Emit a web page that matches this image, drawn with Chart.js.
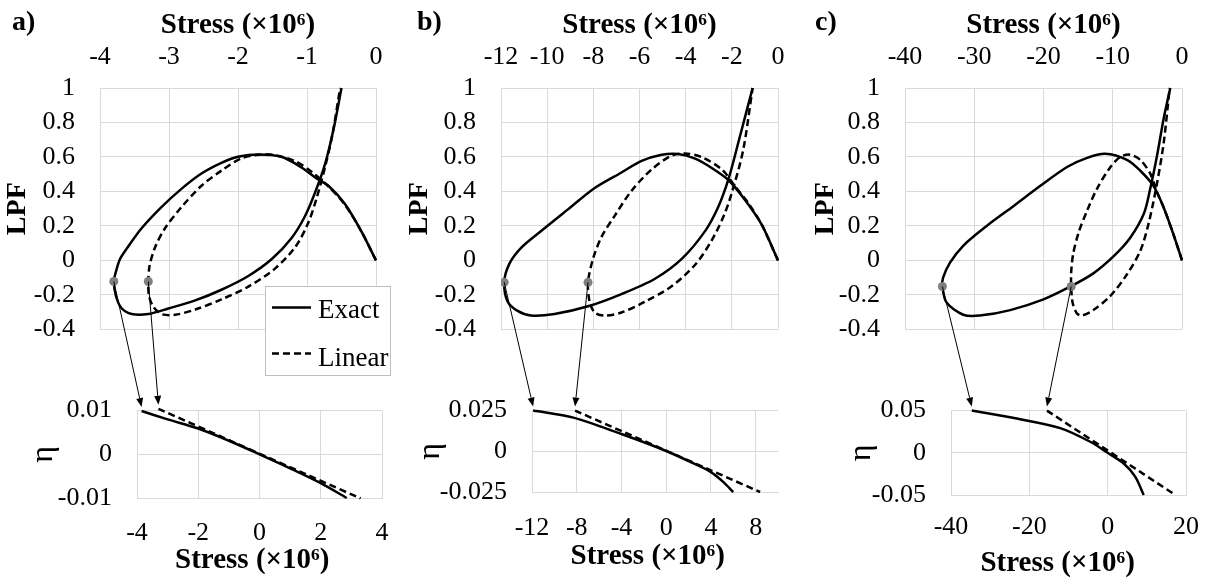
<!DOCTYPE html>
<html>
<head>
<meta charset="utf-8">
<script src="https://cdn.jsdelivr.net/npm/chart.js@4.4.1/dist/chart.umd.min.js"></script>
<style>
  html, body { margin: 0; padding: 0; background: #fff; }
  #wrap { position: relative; width: 1209px; height: 577px; overflow: hidden; }
  #wrap canvas, #wrap svg { position: absolute; }
</style>
</head>
<body>
<div id="wrap">
  <canvas id="aTop" width="430" height="370" style="left:0;top:0"></canvas>
  <canvas id="bTop" width="430" height="370" style="left:400px;top:0"></canvas>
  <canvas id="cTop" width="439" height="370" style="left:800px;top:0"></canvas>
  <canvas id="aBot" width="430" height="227" style="left:0;top:370px"></canvas>
  <canvas id="bBot" width="430" height="227" style="left:400px;top:370px"></canvas>
  <canvas id="cBot" width="439" height="227" style="left:800px;top:370px"></canvas>
  <canvas id="arrows" width="1209" height="577" style="left:0;top:0"></canvas>
  <svg width="1209" height="577" style="left:0;top:0" font-family="'Liberation Serif', 'Times New Roman', serif">
    <text x="12" y="30" font-size="28" font-weight="bold">a)</text>
    <text x="417" y="30" font-size="28" font-weight="bold">b)</text>
    <text x="815" y="30" font-size="28" font-weight="bold">c)</text>
    <rect x="265.5" y="286.5" width="125" height="89" fill="#fff" stroke="#bfbfbf" stroke-width="1"></rect>
    <line x1="272" y1="307.5" x2="311" y2="307.5" stroke="#000" stroke-width="2.5"></line>
    <text x="318" y="317.5" font-size="27">Exact</text>
    <line x1="272" y1="353.5" x2="311" y2="353.5" stroke="#000" stroke-width="2.5" stroke-dasharray="7 4"></line>
    <text x="318" y="365.5" font-size="27">Linear</text>
  </svg>
</div>
<script>
"use strict";

// ---- panel a, LPF vs stress ----
const aExactX = [0, -0.21, -0.45, -0.69, -0.85, -1.08, -1.37, -1.71, -2.0, -2.24, -2.53, -2.82, -3.11, -3.40, -3.61, -3.71, -3.78, -3.80, -3.77, -3.69, -3.54, -3.30, -3.01, -2.62, -2.24, -1.85, -1.51, -1.22, -1.03, -0.88, -0.74, -0.62, -0.50];
const aExactY = [0, 0.167, 0.327, 0.433, 0.472, 0.539, 0.601, 0.615, 0.601, 0.566, 0.504, 0.415, 0.309, 0.185, 0.07, 0.008, -0.081, -0.122, -0.205, -0.276, -0.311, -0.311, -0.279, -0.232, -0.17, -0.09, 0.008, 0.132, 0.256, 0.397, 0.557, 0.752, 1.0];
const aLinearX = [0, -0.21, -0.45, -0.69, -0.93, -1.17, -1.46, -1.66, -1.95, -2.24, -2.53, -2.82, -3.06, -3.20, -3.28, -3.30, -3.29, -3.23, -3.11, -2.91, -2.62, -2.24, -1.85, -1.46, -1.17, -0.98, -0.86, -0.74, -0.63, -0.52];
const aLinearY = [0, 0.167, 0.323, 0.429, 0.513, 0.575, 0.61, 0.615, 0.592, 0.521, 0.433, 0.309, 0.185, 0.078, -0.028, -0.122, -0.205, -0.267, -0.311, -0.315, -0.285, -0.226, -0.152, -0.046, 0.078, 0.22, 0.362, 0.539, 0.734, 1.0];
const aMarkX = [-3.80, -3.30];
const aMarkY = [-0.122, -0.122];

// ---- panel b ----
const bExactX = [0, -0.70, -1.42, -2.14, -2.87, -3.59, -4.32, -5.04, -5.91, -6.78, -7.94, -9.10, -10.26, -11.13, -11.64, -11.86, -11.71, -11.28, -10.70, -9.68, -8.23, -6.78, -5.33, -4.17, -3.16, -2.58, -2.14, -1.71, -1.10];
const bExactY = [0, 0.206, 0.349, 0.465, 0.536, 0.59, 0.617, 0.613, 0.577, 0.51, 0.42, 0.296, 0.171, 0.073, -0.02, -0.127, -0.24, -0.293, -0.32, -0.311, -0.266, -0.195, -0.106, 0.009, 0.17, 0.313, 0.474, 0.688, 1.0];
const bLinearX = [0, -0.70, -1.28, -1.86, -2.43, -3.30, -4.03, -4.61, -5.48, -6.35, -7.07, -7.65, -8.01, -8.23, -8.16, -7.94, -7.51, -6.78, -5.77, -4.61, -3.59, -2.87, -2.29, -1.86, -1.49, -1.10];
const bLinearY = [0, 0.206, 0.331, 0.429, 0.527, 0.599, 0.62, 0.608, 0.527, 0.403, 0.26, 0.135, 0.011, -0.127, -0.24, -0.302, -0.32, -0.302, -0.24, -0.15, -0.025, 0.117, 0.278, 0.456, 0.652, 1.0];
const bMarkX = [-11.86, -8.23];
const bMarkY = [-0.127, -0.127];

// ---- panel c ----
const cExactX = [0, -1.2, -2.65, -4.1, -6.02, -7.95, -11.08, -13.7, -16.6, -20.5, -24.3, -28.2, -31.6, -33.5, -34.5, -34.6, -34.0, -31.6, -29.2, -24.8, -20.0, -16.1, -12.8, -9.9, -7.5, -5.5, -4.6, -3.6, -2.65, -1.69];
const cExactY = [0, 0.147, 0.307, 0.431, 0.52, 0.583, 0.618, 0.595, 0.542, 0.431, 0.316, 0.2, 0.085, -0.013, -0.1, -0.151, -0.244, -0.315, -0.32, -0.288, -0.226, -0.151, -0.075, 0.023, 0.13, 0.272, 0.414, 0.609, 0.822, 1.0];
const cLinearX = [0, -1.2, -2.65, -3.61, -4.58, -6.02, -7.47, -8.92, -10.4, -12.3, -13.7, -14.9, -15.7, -16.0, -16.0, -15.8, -15.2, -14.5, -12.8, -10.4, -8.0, -6.0, -4.8, -3.6, -2.65, -1.78];
const cLinearY = [0, 0.147, 0.307, 0.396, 0.503, 0.583, 0.613, 0.6, 0.538, 0.414, 0.289, 0.165, 0.041, -0.066, -0.151, -0.244, -0.306, -0.32, -0.288, -0.208, -0.084, 0.058, 0.218, 0.449, 0.68, 1.0];
const cMarkX = [-34.6, -16.0];
const cMarkY = [-0.151, -0.151];

// ---- eta vs stress (lower plots) ----
const aEtaExactX = [-3.85, -3, -2, -1, 0, 1, 2, 2.85];
const aEtaExactY = [0.0099, 0.0080, 0.0059, 0.0031, 0, -0.0032, -0.0066, -0.01];
const aEtaLinearX = [-3.3, 3.3];
const aEtaLinearY = [0.0104, -0.0101];

const bEtaExactX = [-11.9, -8.3, -4, 0, 2.5, 4, 5.1, 6];
const bEtaExactY = [0.025, 0.0207, 0.0106, 0.0002, -0.0076, -0.0128, -0.0188, -0.025];
const bEtaLinearX = [-8.15, 8.4];
const bEtaLinearY = [0.025, -0.025];

const cEtaExactX = [-34.7, -23.2, -12.1, -4.45, 0, 4.1, 7.06, 9.2];
const cEtaExactY = [0.05, 0.0406, 0.0293, 0.0131, 0, -0.0127, -0.0285, -0.05];
const cEtaLinearX = [-15.5, 17.3];
const cEtaLinearY = [0.05, -0.05];

const FONT = "'Liberation Serif', 'Times New Roman', serif";
const GRID = "#d9d9d9";
const STRESS = "Stress (×10⁶)";

Chart.defaults.font.family = FONT;
Chart.defaults.font.size = 26;
Chart.defaults.color = "#000";

const pts = (xs, ys) => xs.map((x, i) => ({ x, y: ys[i] }));
const fmt = (v) => String(+Number(v).toFixed(4));

function lineSet(xs, ys, dashed) {
  return {
    data: pts(xs, ys),
    showLine: true,
    borderColor: "#000",
    borderWidth: 2.5,
    borderDash: dashed ? [7, 4] : [],
    pointRadius: 0,
    tension: 0.3,
    fill: false,
    clip: 4,
  };
}

// grey dots sit on top of the curves (first dataset is drawn last)
function markSet(xs, ys) {
  return {
    data: pts(xs, ys),
    showLine: false,
    pointRadius: 4.5,
    pointBackgroundColor: "#7f7f7f",
    pointBorderWidth: 0,
  };
}

function baseOptions(pad) {
  return {
    responsive: false,
    animation: false,
    events: [],
    layout: { padding: pad },
    plugins: { legend: { display: false }, tooltip: { enabled: false } },
  };
}

function topChart(id, o) {
  const opts = baseOptions({ left: 0, top: 0, right: o.padRight, bottom: 19 });
  opts.scales = {
    x: {
      type: "linear",
      position: "top",
      min: o.xMin,
      max: 0,
      ticks: { stepSize: o.xStep, padding: 15, maxRotation: 0, autoSkip: false, callback: fmt },
      grid: { color: GRID, drawTicks: false },
      border: { color: GRID },
      title: { display: true, text: STRESS, font: { size: 29, weight: "bold" }, padding: { top: 8, bottom: 0 } },
      afterFit: (s) => { s.height = 88; },
    },
    y: {
      min: -0.4,
      max: 1,
      ticks: { stepSize: 0.2, padding: 25, callback: fmt },
      grid: { color: GRID, drawTicks: false },
      border: { color: GRID },
      title: { display: true, text: "LPF", font: { size: 28, weight: "bold" }, padding: { top: o.titlePad, bottom: 0 } },
      afterFit: (s) => { s.width = o.yWidth; },
    },
  };
  return new Chart(document.getElementById(id), {
    type: "scatter",
    data: { datasets: [markSet(o.mx, o.my), lineSet(o.ex, o.ey, false), lineSet(o.lx, o.ly, true)] },
    options: opts,
  });
}

function botChart(id, o) {
  const opts = baseOptions({ left: 0, top: o.padTop, right: o.padRight, bottom: 0 });
  opts.scales = {
    x: {
      type: "linear",
      position: "bottom",
      min: o.xMin,
      max: o.xMax,
      ticks: { stepSize: o.xStep, padding: o.tickPad, maxRotation: 0, autoSkip: false, includeBounds: false, callback: fmt },
      grid: { color: GRID, drawTicks: false },
      border: { color: GRID },
      title: { display: true, text: STRESS + o.shift, font: { size: 29, weight: "bold" }, padding: { top: 0, bottom: o.titleBottom } },
      afterFit: (s) => { s.height = o.xHeight; },
    },
    y: {
      min: -o.yMax,
      max: o.yMax,
      ticks: { stepSize: o.yMax, padding: 25, callback: fmt },
      grid: { color: GRID, drawTicks: false },
      border: { color: GRID },
      title: { display: true, text: "η", font: { size: 32 }, padding: { top: o.titlePad, bottom: 0 } },
      afterFit: (s) => { s.width = o.yWidth; },
    },
  };
  return new Chart(document.getElementById(id), {
    type: "scatter",
    data: { datasets: [lineSet(o.ex, o.ey, false), lineSet(o.lx, o.ly, true)] },
    options: opts,
  });
}

const aTop = topChart("aTop", { ex: aExactX, ey: aExactY, lx: aLinearX, ly: aLinearY, mx: aMarkX, my: aMarkY, xMin: -4, xStep: 1, yWidth: 100, padRight: 54, titlePad: 1 });
const bTop = topChart("bTop", { ex: bExactX, ey: bExactY, lx: bLinearX, ly: bLinearY, mx: bMarkX, my: bMarkY, xMin: -12, xStep: 2, yWidth: 101, padRight: 52, titlePad: 3 });
const cTop = topChart("cTop", { ex: cExactX, ey: cExactY, lx: cLinearX, ly: cLinearY, mx: cMarkX, my: cMarkY, xMin: -40, xStep: 10, yWidth: 105, padRight: 57, titlePad: 9 });

const aBot = botChart("aBot", { ex: aEtaExactX, ey: aEtaExactY, lx: aEtaLinearX, ly: aEtaLinearY, xMin: -4, xMax: 4, xStep: 2, yMax: 0.01, yWidth: 137, padTop: 28, padRight: 48, xHeight: 99, tickPad: 20, titleBottom: 19, titlePad: 24, shift: "  " });
const bBot = botChart("bBot", { ex: bEtaExactX, ey: bEtaExactY, lx: bEtaLinearX, ly: bEtaLinearY, xMin: -12, xMax: 10, xStep: 4, yMax: 0.025, yWidth: 132, padTop: 25, padRight: 52, xHeight: 105, tickPad: 21, titleBottom: 23, titlePad: 11, shift: "  " });
const cBot = botChart("cBot", { ex: cEtaExactX, ey: cEtaExactY, lx: cEtaLinearX, ly: cEtaLinearY, xMin: -40, xMax: 20, xStep: 20, yMax: 0.05, yWidth: 151, padTop: 22, padRight: 53, xHeight: 102, tickPad: 17, titleBottom: 16, titlePad: 42, shift: "   " });

// arrows from the grey markers down to the start of each eta curve
function pagePx(chart, x, y) {
  const c = chart.canvas;
  return [c.offsetLeft + chart.scales.x.getPixelForValue(x), c.offsetTop + chart.scales.y.getPixelForValue(y)];
}

function arrow(ctx, p1, p2) {
  const [x1, y1] = p1, [x2, y2] = p2;
  const a = Math.atan2(y2 - y1, x2 - x1), L = 9, W = 3.5;
  const bx = x2 - L * Math.cos(a), by = y2 - L * Math.sin(a);
  ctx.beginPath();
  ctx.moveTo(x1, y1);
  ctx.lineTo(bx, by);
  ctx.lineWidth = 1;
  ctx.strokeStyle = "#000";
  ctx.stroke();
  ctx.beginPath();
  ctx.moveTo(x2, y2);
  ctx.lineTo(bx + W * Math.sin(a), by - W * Math.cos(a));
  ctx.lineTo(bx - W * Math.sin(a), by + W * Math.cos(a));
  ctx.closePath();
  ctx.fillStyle = "#000";
  ctx.fill();
}

const actx = document.getElementById("arrows").getContext("2d");
[
  [aTop, aBot, aMarkX, aMarkY, aEtaExactX, aEtaExactY, aEtaLinearX, aEtaLinearY],
  [bTop, bBot, bMarkX, bMarkY, bEtaExactX, bEtaExactY, bEtaLinearX, bEtaLinearY],
  [cTop, cBot, cMarkX, cMarkY, cEtaExactX, cEtaExactY, cEtaLinearX, cEtaLinearY],
].forEach(([top, bot, mx, my, ex, ey, lx, ly]) => {
  const e = pagePx(bot, ex[0], ey[0]);
  const l = pagePx(bot, lx[0], ly[0]);
  arrow(actx, pagePx(top, mx[0], my[0]), [e[0], e[1] - 4]);
  arrow(actx, pagePx(top, mx[1], my[1]), [l[0], l[1] - 4]);
});
</script>
</body>
</html>
